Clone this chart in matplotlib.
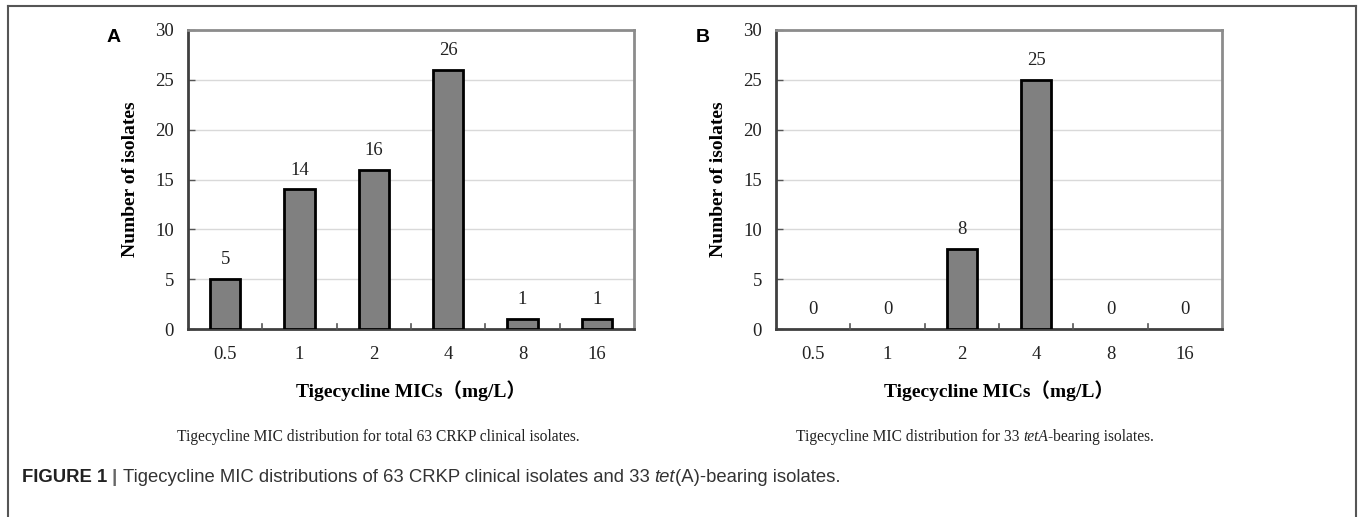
import matplotlib
matplotlib.use("Agg")
import matplotlib.pyplot as plt
from matplotlib.lines import Line2D

# ---- data ----
categories = ["0.5", "1", "2", "4", "8", "16"]
counts_a = [5, 14, 16, 26, 1, 1]
counts_b = [0, 0, 8, 25, 0, 0]
y_ticks = [0, 5, 10, 15, 20, 25, 30]
y_label = "Number of isolates"
x_label = "Tigecycline MICs（mg/L）"

W, H = 1360, 517
fig = plt.figure(figsize=(W / 100, H / 100), dpi=100)
fig.patch.set_facecolor("white")

SERIF = ["Liberation Serif", "DejaVu Serif"]
SERIF_CJK = ["Liberation Serif", "Noto Sans CJK SC", "DejaVu Serif"]
SANS = ["Liberation Sans", "DejaVu Sans"]


def px_axes(left, right, top, bottom):
    return fig.add_axes([left / W, 1 - bottom / H, (right - left) / W, (bottom - top) / H])


def draw_panel(ax, counts):
    x = list(range(len(categories)))
    bars = ax.bar(x, counts, width=0.41, color="#808080", edgecolor="black", linewidth=2.0, zorder=3)
    for b, v in zip(bars, counts):
        if v == 0:
            b.set_linewidth(0)
    ax.set_xlim(-0.5, len(categories) - 0.5)
    ax.set_ylim(0, 30)
    ax.set_yticks(y_ticks)
    ax.set_yticklabels([str(v) for v in y_ticks], family=SERIF, fontsize=13.5, color="#222222")
    ax.set_xticks(x)
    ax.set_xticklabels(categories, family=SERIF, fontsize=13.5, color="#222222")
    ax.tick_params(axis="x", length=0, pad=12)
    ax.tick_params(axis="y", direction="in", length=5, width=1, color="#555555", pad=10)
    # boundary tick marks on x axis
    for b in range(1, len(categories)):
        ax.plot([b - 0.5, b - 0.5], [0, 0.55], color="#555555", lw=1.2, zorder=4, clip_on=False)
    ax.grid(axis="y", color="#d9d9d9", lw=1, zorder=0)
    ax.set_axisbelow(True)
    for s in ["left", "bottom"]:
        ax.spines[s].set_color("#404040")
        ax.spines[s].set_linewidth(2)
    for s in ["top", "right"]:
        ax.spines[s].set_color("#8c8c8c")
        ax.spines[s].set_linewidth(2)
    for xi, v in zip(x, counts):
        ax.annotate(str(v), (xi, v), xytext=(0, 14), textcoords="offset points",
                    ha="center", va="center", family=SERIF, fontsize=13.5, color="#222222")
    ax.set_ylabel(y_label, family=SERIF, fontsize=14, fontweight="bold", labelpad=12)
    ax.set_xlabel(x_label, family=SERIF_CJK, fontsize=14, fontweight="bold", labelpad=13)


ax_a = px_axes(188, 634, 30, 329)
ax_b = px_axes(776, 1222, 30, 329)
draw_panel(ax_a, counts_a)
draw_panel(ax_b, counts_b)

# panel letters
fig.text(114 / W, 1 - 37 / H, "A", family=SANS, fontsize=14, fontweight="bold", ha="center", va="center")
fig.text(703 / W, 1 - 37 / H, "B", family=SANS, fontsize=14, fontweight="bold", ha="center", va="center")

# border
fig.add_artist(Line2D([8 / W, 1356 / W], [1 - 6 / H, 1 - 6 / H], color="#555555", lw=1.5))
fig.add_artist(Line2D([8 / W, 8 / W], [1 - 6 / H, 0], color="#555555", lw=1.5))
fig.add_artist(Line2D([1356 / W, 1356 / W], [1 - 6 / H, 0], color="#555555", lw=1.5))

fig.canvas.draw()
renderer = fig.canvas.get_renderer()


def rich(x_px, y_px, pieces, ha="left"):
    widths = []
    for txt, props in pieces:
        t = fig.text(0, 0, txt, **props)
        widths.append(t.get_window_extent(renderer).width)
        t.remove()
    total = sum(widths)
    x = x_px - (total / 2 if ha == "center" else 0)
    for (txt, props), w in zip(pieces, widths):
        fig.text(x / W, 1 - y_px / H, txt, va="center", ha="left", **props)
        x += w


cap = dict(family=SERIF, fontsize=11.2, color="#222222")
cap_it = dict(family=SERIF, fontsize=11.2, style="italic", color="#222222")
rich(378, 437, [("Tigecycline MIC distribution for total 63 CRKP clinical isolates.", cap)], ha="center")
rich(975, 437, [("Tigecycline MIC distribution for 33 ", cap), ("tetA", cap_it),
                ("-bearing isolates.", cap)], ha="center")

FS = 13.3
fc = dict(family=SANS, fontsize=FS, color="#333333")
rich(22, 478, [("FIGURE 1", dict(family=SANS, fontsize=FS, fontweight="bold", color="#222222")),
               (" | ", dict(family=SANS, fontsize=FS, fontweight="bold", color="#666666")),
               ("Tigecycline MIC distributions of 63 CRKP clinical isolates and 33 ", fc),
               ("tet", dict(family=SANS, fontsize=FS, style="italic", color="#333333")),
               ("(A)-bearing isolates.", fc)])

fig.savefig("out.png", dpi=100)
